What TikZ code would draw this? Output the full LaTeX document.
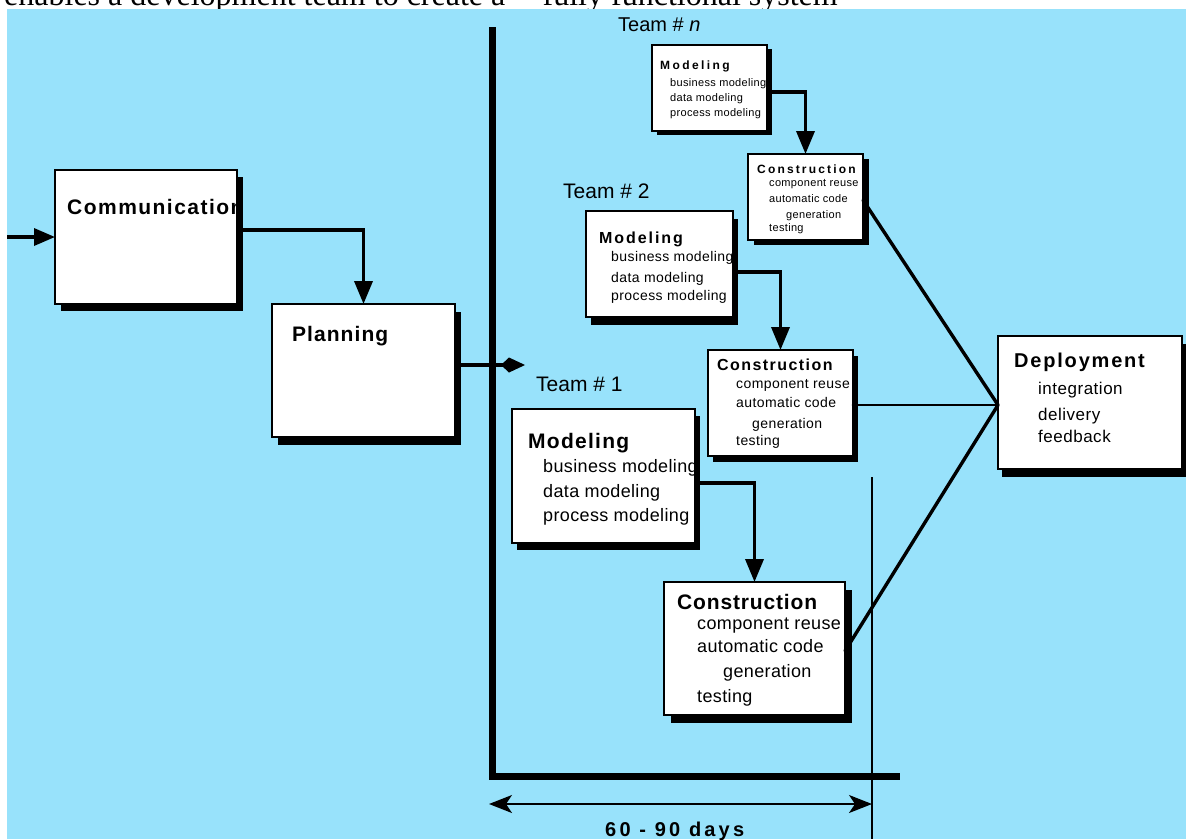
\documentclass[tikz,border=0pt]{standalone}
\usepackage{fontspec}
\setmainfont{Liberation Sans}
\newfontfamily\serifd{Liberation Serif}
\usetikzlibrary{arrows.meta,shadows}
\definecolor{bg}{RGB}{152,226,251}
\newcommand{\myfs}[1]{\fontsize{#1}{#1}\selectfont}
\newcommand{\mylsp}[1]{\addfontfeature{LetterSpace=#1}}
\begin{document}
\begin{tikzpicture}[x=1pt,y=-1pt,
  box/.style={draw=black,fill=white,line width=1.6pt,anchor=north west,inner sep=0pt,outer sep=0pt},
  shad/.style 2 args={general shadow={shadow xshift=#1,shadow yshift=-#2,fill=black,opacity=1}},
  ttl/.style={anchor=base west,inner sep=0pt,font=\bfseries},
  itm/.style={anchor=base west,inner sep=0pt},
  conn/.style={line width=3.6pt,-{Triangle[length=23pt,width=18pt]}},
  fan/.style={line width=3.4pt,line cap=round},
]
\clip (0,0) rectangle (1186,839);
\fill[white] (0,0) rectangle (1186,839);
\node[anchor=base west,inner sep=0pt,font=\serifd\myfs{32}] (hdr) at (4,5) {enables a development team to create a \ ``fully functional system};
\fill[bg] (7,9) rectangle (1186,839);

% boxes
\node[box,minimum width=182pt,minimum height=134pt,shad={6pt}{7pt}] (comm) at (55,170) {};
\node[box,minimum width=183pt,minimum height=133pt,shad={6pt}{8pt}] (plan) at (272,304) {};
\node[box,minimum width=115pt,minimum height=86pt,shad={5pt}{4pt}] (mn) at (652,45) {};
\node[box,minimum width=115pt,minimum height=86pt,shad={6pt}{5pt}] (cn) at (748,154) {};
\node[box,minimum width=147pt,minimum height=106pt,shad={5pt}{8pt}] (m2) at (586,211) {};
\node[box,minimum width=145pt,minimum height=106pt,shad={5pt}{6pt}] (c2) at (708,350) {};
\node[box,minimum width=183pt,minimum height=134pt,shad={5pt}{7pt}] (m1) at (512,409) {};
\node[box,minimum width=181pt,minimum height=133pt,shad={7pt}{8pt}] (c1) at (664,582) {};
\node[box,minimum width=184pt,minimum height=133pt,shad={4pt}{8pt}] (dep) at (998,336) {};

% Communication / Planning
\begin{scope}
\clip (comm.north west) rectangle (comm.south east);
\node[ttl,font=\bfseries\myfs{21}\mylsp{7}] (commT) at (67,214) {Communication};
\end{scope}
\node[ttl,font=\bfseries\myfs{21}\mylsp{5}] (planT) at (292,341) {Planning};

% team labels
\node[itm,font=\myfs{20}] (tn) at (618,31) {Team \# \textit{n}};
\node[itm,font=\myfs{21}] (t2) at (563,198) {Team \# 2};
\node[itm,font=\myfs{21}] (t1) at (536,391) {Team \# 1};

% Team n
\node[ttl,font=\bfseries\myfs{12}\mylsp{20}] (mnT) at (660,69) {Modeling};
\begin{scope}[every node/.style={itm,font=\myfs{11}\mylsp{3}}]
\node (mn1) at (670,86) {business modeling};
\node (mn2) at (670,101) {data modeling};
\node (mn3) at (670,116) {process modeling};
\end{scope}
\node[ttl,font=\bfseries\myfs{12}\mylsp{18}] (cnT) at (757,173) {Construction};
\begin{scope}[every node/.style={itm,font=\myfs{11}\mylsp{3}}]
\node (cn1) at (769,186) {component reuse};
\node (cn2) at (769,202) {automatic code};
\node (cn3) at (786,218) {generation};
\node (cn4) at (769,231) {testing};
\end{scope}

% Team 2
\node[ttl,font=\bfseries\myfs{16}\mylsp{12}] (m2T) at (599,243) {Modeling};
\begin{scope}[every node/.style={itm,font=\myfs{14}\mylsp{3}}]
\node (m21) at (611,261) {business modeling};
\node (m22) at (611,282) {data modeling};
\node (m23) at (611,300) {process modeling};
\end{scope}
\node[ttl,font=\bfseries\myfs{16}\mylsp{9}] (c2T) at (717,370) {Construction};
\begin{scope}[every node/.style={itm,font=\myfs{14}\mylsp{3}}]
\node (c21) at (736,388) {component reuse};
\node (c22) at (736,407) {automatic code};
\node (c23) at (752,428) {generation};
\node (c24) at (736,445) {testing};
\end{scope}

% Team 1
\node[ttl,font=\bfseries\myfs{21}\mylsp{6}] (m1T) at (528,448) {Modeling};
\begin{scope}[every node/.style={itm,font=\myfs{18}\mylsp{2}}]
\node (m11) at (543,472) {business modeling};
\node (m12) at (543,497) {data modeling};
\node (m13) at (543,521) {process modeling};
\end{scope}
\node[ttl,font=\bfseries\myfs{21}\mylsp{4}] (c1T) at (677,609) {Construction};
\begin{scope}[every node/.style={itm,font=\myfs{18}\mylsp{2}}]
\node (c11) at (697,629) {component reuse};
\node (c12) at (697,652) {automatic code};
\node (c13) at (723,677) {generation};
\node (c14) at (697,702) {testing};
\end{scope}

% Deployment
\node[ttl,font=\bfseries\myfs{20}\mylsp{9}] (depT) at (1014,367) {Deployment};
\begin{scope}[every node/.style={itm,font=\myfs{17}\mylsp{3}}]
\node (d1) at (1038,394) {integration};
\node (d2) at (1038,420) {delivery};
\node (d3) at (1038,442) {feedback};
\end{scope}

% timeline frame
\draw[line width=7pt] (492.5,27) -- (492.5,776.5) -- (900,776.5);
\draw[line width=1.5pt] (872,477) -- (872,839);
\coordinate (dl) at (489,804);
\coordinate (dr) at (872,804);
\draw[line width=1.6pt,{Stealth[length=23pt,width=18pt,inset=6pt]}-{Stealth[length=23pt,width=18pt,inset=6pt]}] (dl) -- (dr);
\node[ttl,font=\bfseries\myfs{20}\mylsp{16}] (days) at (605,836) {60 - 90 days};

% connectors
\coordinate (in) at (7,237);
\draw[line width=3.4pt,-{Triangle[length=21pt,width=17pt]}] (in) -- (comm.west);
\draw[conn] (comm.east |- 0,230) -| (plan.north);
\coordinate (tip) at (525,365);
\draw[line width=3.4pt,-{Kite[length=24pt,width=15pt,inset=8pt]}] (plan.east |- 0,365) -- (tip);
\draw[conn] (mn.east |- 0,92) -| (cn.north);
\draw[conn] (m2.east |- 0,272) -| (c2.north);
\draw[conn] (m1.east |- 0,483) -| (c1.north);

\coordinate (hub) at (dep.west |- 0,405);
\draw[fan] (cn.east |- 0,200) -- (hub);
\draw[fan,line width=2.8pt] (c2.east |- 0,405) -- (hub);
\draw[fan] (c1.east |- 0,651) -- (hub);
\end{tikzpicture}
\end{document}
